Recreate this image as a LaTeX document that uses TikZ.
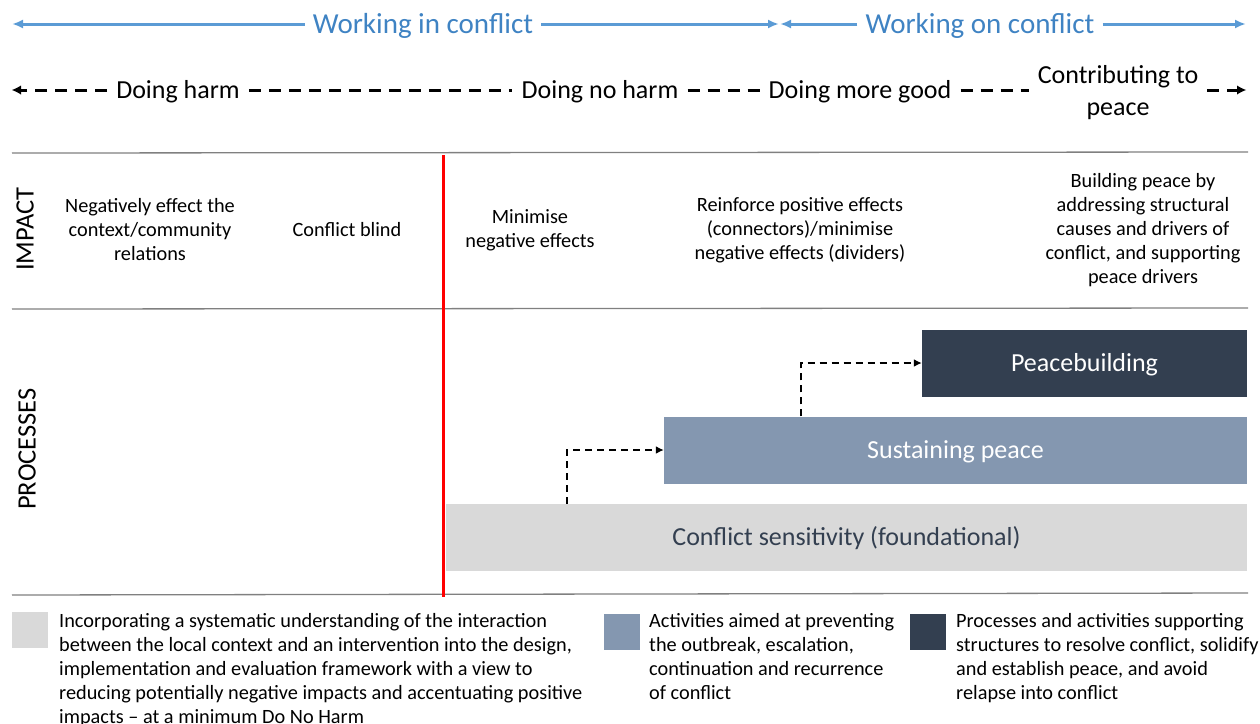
\documentclass[tikz,border=0pt]{standalone}
\usepackage{fontspec}
\setmainfont{Carlito}
\usetikzlibrary{arrows.meta}
\definecolor{bline}{HTML}{5B9BD5}
\definecolor{btext}{HTML}{3F83C3}
\definecolor{rule}{HTML}{808080}
\definecolor{navy}{HTML}{333F50}
\definecolor{slate}{HTML}{8497B0}
\definecolor{lgray}{HTML}{D9D9D9}
\tikzset{
  toplbl/.style={text=btext,font=\fontsize{29}{35}\selectfont,inner sep=8pt},
  topline/.style={draw=bline,line width=3pt,-{Latex[length=11pt,width=9pt]}},
  scale lbl/.style={font=\fontsize{26}{32}\selectfont,align=center,inner sep=9pt},
  dashline/.style={line width=3pt,dash pattern=on 12pt off 8pt},
  dasharrow/.style={dashline,-{Latex[length=9pt,width=9pt,line width=0pt]}},
  rulestyle/.style={draw=rule,line width=1.3pt},
  impact/.style={font=\fontsize{20.3}{24}\selectfont,align=center},
  sidelbl/.style={font=\fontsize{26.5}{30}\selectfont,rotate=90},
  procbox/.style={minimum height=67pt,font=\fontsize{26}{31}\selectfont,inner sep=0pt,text height=21.5pt,text depth=5pt},
  conn/.style={line width=1.8pt,dash pattern=on 7pt off 5pt,-{Latex[length=8pt,width=8pt]}},
  legsq/.style={minimum width=36pt,minimum height=36pt,inner sep=0pt,anchor=north west},
  legtxt/.style={font=\fontsize{20.3}{24}\selectfont,align=left,anchor=north west,inner sep=0pt},
}
\begin{document}
\begin{tikzpicture}[x=1pt,y=-1pt]
\useasboundingbox (0,0) rectangle (1260,723);
% top blue arrows
\node[toplbl] (wic) at (423,26) {Working in conflict};
\node[toplbl] (woc) at (980,26) {Working on conflict};
\coordinate (wicL) at (12,24);
\coordinate (wicR) at (779,24);
\coordinate (wocL) at (780,24);
\coordinate (wocR) at (1246,24);
\draw[topline] (wic.west |- wicL) -- (wicL);
\draw[topline] (wic.east |- wicL) -- (wicR);
\draw[topline] (woc.west |- wocL) -- (wocL);
\draw[topline] (woc.east |- wocL) -- (wocR);
% dashed scale
\node[scale lbl] (dh) at (178,92) {Doing harm};
\node[scale lbl] (dnh) at (600,92) {Doing no harm};
\node[scale lbl] (dmg) at (860,92) {Doing more good};
\node[scale lbl] (cp) at (1118,93) {Contributing to\\peace};
\coordinate (scL) at (12,90);
\coordinate (scR) at (1246,90);
\draw[dasharrow] (dh.west |- scL) -- (scL);
\draw[dashline] (dh.east |- scL) -- (dnh.west |- scL);
\draw[dashline] (dnh.east |- scL) -- (dmg.west |- scL);
\draw[dashline] (dmg.east |- scL) -- (cp.west |- scL);
\draw[dasharrow] (cp.east |- scR) -- (scR);
% rules
\coordinate (r1a) at (12,153); \coordinate (r1b) at (1248,152);
\coordinate (r2a) at (12,309); \coordinate (r2b) at (1248,308);
\coordinate (r3a) at (12,595); \coordinate (r3b) at (1248,593);
\draw[rulestyle] (r1a) -- (r1b);
\draw[rulestyle] (r2a) -- (r2b);
\draw[rulestyle] (r3a) -- (r3b);
% side labels
\node[sidelbl] (imp) at (25,229) {IMPACT};
\node[sidelbl] (proc) at (27,449) {PROCESSES};
% impact texts
\node[impact] (i1) at (150,230) {Negatively effect the\\context/community\\relations};
\node[impact] (i2) at (347,230) {Conflict blind};
\node[impact] (i3) at (530,230) {Minimise\\negative effects};
\node[impact] (i4) at (800,230) {Reinforce positive effects\\(connectors)/minimise\\negative effects (dividers)};
\node[impact] (i5) at (1143,230) {Building peace by\\addressing structural\\causes and drivers of\\conflict, and supporting\\peace drivers};
% process boxes
\node[procbox,fill=navy,text=white,minimum width=325pt] (pb) at (1084.5,363) {Peacebuilding};
\node[procbox,fill=slate,text=white,minimum width=583pt] (sp) at (955.5,450) {Sustaining peace};
\node[procbox,fill=lgray,text=navy,minimum width=801pt] (cs) at (846.5,537.5) {Conflict sensitivity (foundational)};
% red line
\coordinate (redT) at (443,155);
\coordinate (redB) at (443,597);
\draw[red,line width=3pt] (redT) -- (redB);
% connectors
\draw[conn] (cs.north -| 567,0) |- (sp.west);
\draw[conn] (sp.north -| 801,0) |- (pb.west);
% legend
\node[legsq,fill=lgray] (lg1) at (12,612) {};
\node[legtxt] (lt1) at (59,613) {Incorporating a systematic understanding of the interaction\\between the local context and an intervention into the design,\\implementation and evaluation framework with a view to\\reducing potentially negative impacts and accentuating positive\\impacts -- at a minimum Do No Harm};
\node[legsq,fill=slate] (lg2) at (604,614) {};
\node[legtxt] (lt2) at (649,613) {Activities aimed at preventing\\the outbreak, escalation,\\continuation and recurrence\\of conflict};
\node[legsq,fill=navy] (lg3) at (910,614) {};
\node[legtxt] (lt3) at (956,613) {Processes and activities supporting\\structures to resolve conflict, solidify\\and establish peace, and avoid\\relapse into conflict};
\end{tikzpicture}
\end{document}
